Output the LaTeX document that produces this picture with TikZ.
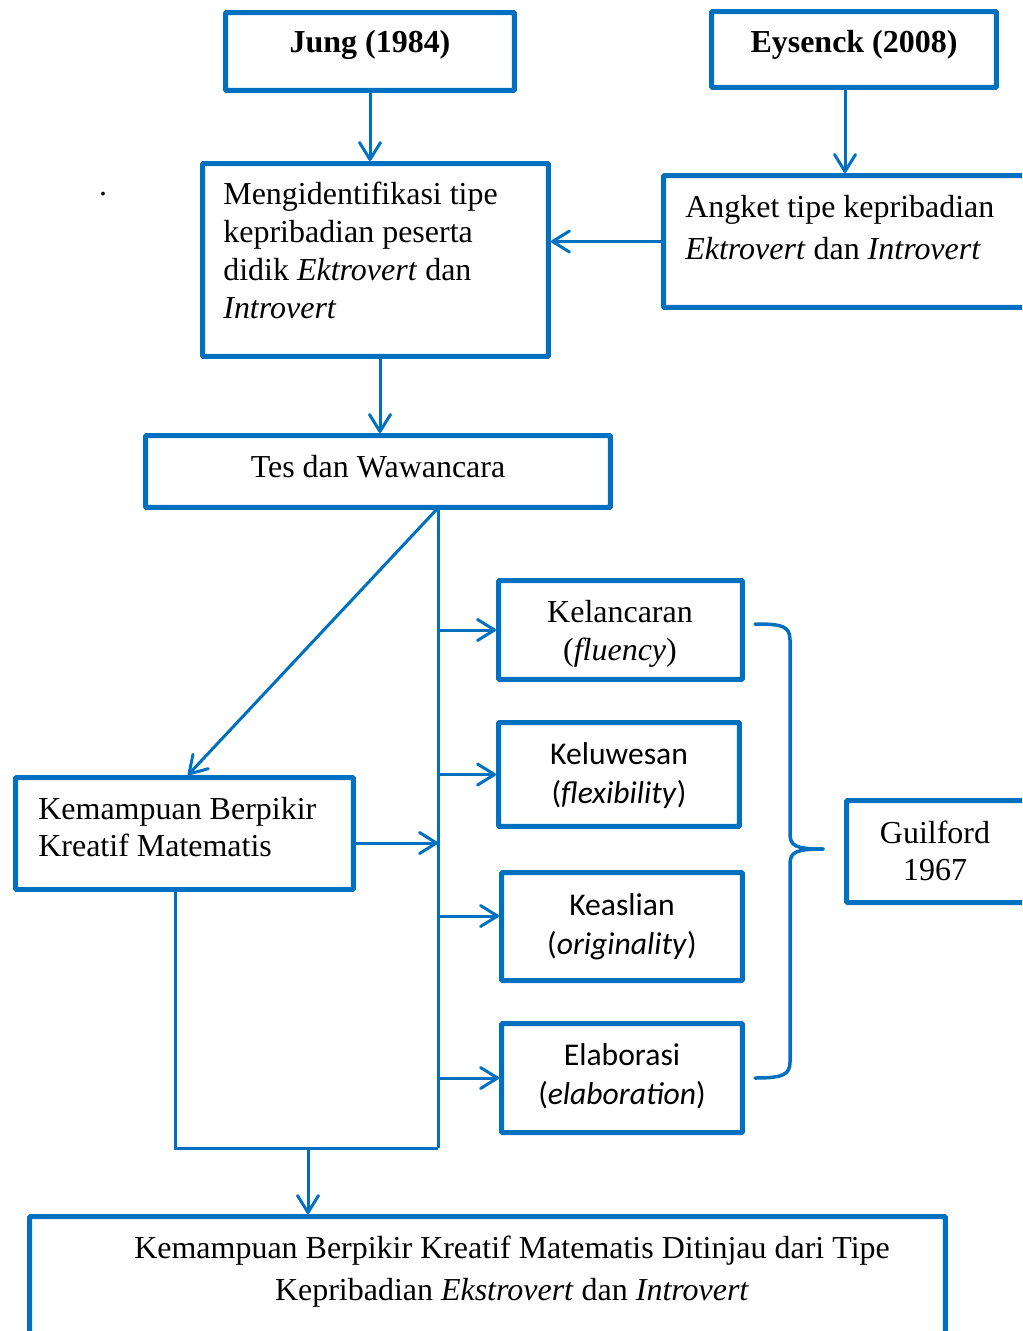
\documentclass[tikz,border=0pt]{standalone}
\usepackage{fontspec}
\setmainfont{Liberation Serif}
\newfontfamily\calibrifont{Carlito}
\usepackage{tikz}
\usetikzlibrary{arrows.meta,positioning}
\definecolor{frameblue}{RGB}{0,112,192}

\begin{document}
\begin{tikzpicture}[x=0.02cm,y=-0.02cm,
	box/.style={draw=frameblue,line width=0.1cm,inner sep=0pt,rounded corners=0.6pt},
	link/.style={draw=frameblue,line width=0.06cm,-{Straight Barb[length=3.4mm,width=4.2mm,round]}},
	wire/.style={draw=frameblue,line width=0.06cm},
	brace/.style={draw=frameblue,line width=0.07cm},
	txt/.style={inner sep=0pt,font=\fontsize{18.2}{21.5}\selectfont},
	ctxt/.style={inner sep=0pt,align=center,font=\calibrifont\fontsize{18}{22}\selectfont}]
		% page
		\useasboundingbox (0,0) rectangle (1022,1331);
		\clip (0,0) rectangle (1022,1331);
		% frames
		\node[box,minimum width=5.78cm,minimum height=1.56cm] (jung) at (370,51.5) {};
		\node[box,minimum width=5.70cm,minimum height=1.52cm] (eysenck) at (854,49.5) {};
		\node[box,minimum width=6.92cm,minimum height=3.86cm] (identify) at (375.5,260) {};
		\node[box,minimum width=7.93cm,minimum height=2.64cm] (angket) at (861.75,241.5) {};
		\node[box,minimum width=9.30cm,minimum height=1.44cm] (tes) at (378,471.5) {};
		\node[box,minimum width=4.88cm,minimum height=1.98cm] (fluency) at (620.5,630) {};
		\node[box,minimum width=4.82cm,minimum height=2.08cm] (flex) at (619,774.5) {};
		\node[box,minimum width=4.82cm,minimum height=2.16cm] (orig) at (622,926.5) {};
		\node[box,minimum width=4.82cm,minimum height=2.18cm] (elab) at (622,1078) {};
		\node[box,minimum width=4.27cm,minimum height=2.04cm] (guilford) at (953.25,851.5) {};
		\node[box,minimum width=6.76cm,minimum height=2.24cm] (kreatif) at (184.5,833.5) {};
		\node[box,minimum width=18.32cm,minimum height=3.67cm] (result) at (487.5,1308.25) {};
		% texts
		\node[txt] (jungtxt) at (370,45) {\textbf{Jung (1984)}};
		\node[txt] (eysencktxt) at (854,45) {\textbf{Eysenck (2008)}};
		\node[txt] (dot) at (103,194) {.};
		\node[txt,anchor=north west,align=left] (identifytxt) at (223,182)
			{Mengidentifikasi tipe\\kepribadian peserta\\didik \textit{Ektrovert} dan\\\textit{Introvert}};
		\node[txt,anchor=north west,align=left,font=\fontsize{18.2}{24}\selectfont] (angkettxt) at (685,195)
			{Angket tipe kepribadian\\\textit{Ektrovert} dan \textit{Introvert}};
		\node[txt] (testxt) at (378,467) {Tes dan Wawancara};
		\node[txt,align=center,font=\fontsize{18.2}{21.5}\selectfont] (fluencytxt) at (620,634)
			{Kelancaran\\(\textit{fluency})};
		\node[ctxt] (flextxt) at (619,775.5) {Keluwesan\\(\textit{flexibility})};
		\node[ctxt] (origtxt) at (622,926.5) {Keaslian\\(\textit{originality})};
		\node[ctxt] (elabtxt) at (622,1076.5) {Elaborasi\\(\textit{elaboration})};
		\node[txt,align=center] (guilfordtxt) at (935,851) {Guilford\\1967};
		\node[txt,anchor=north west,align=left] (kreatiftxt) at (38,796.5)
			{Kemampuan Berpikir\\Kreatif Matematis};
		\node[txt,align=center,font=\fontsize{18.2}{24}\selectfont] (resulttxt) at (512,1272)
			{Kemampuan Berpikir Kreatif Matematis Ditinjau dari Tipe\\Kepribadian \textit{Ekstrovert} dan \textit{Introvert}};
		% top arrows
		\draw[link] (jung.south) -- (jung.south |- identify.north);
		\draw[link] ([xshift=-0.18cm]eysenck.south) -- ([xshift=-0.18cm]eysenck.south |- angket.north);
		\draw[link] (angket.west) -- (angket.west -| identify.east);
		\draw[link] ([xshift=0.09cm]identify.south) -- ([xshift=0.09cm]identify.south |- tes.north);
		% trunk
		\coordinate (split) at (438,508);
		\coordinate (join) at (438,1148);
		\coordinate (drop) at (308,1148);
		\draw[wire] (split) -- (join);
		\draw[link] (split) -- ([xshift=0.07cm]kreatif.north);
		\draw[link] (split |- fluency.west) -- (fluency.west);
		\draw[link] (split |- flex.west) -- (flex.west);
		\draw[link] (split |- 0,916) -- (orig.west |- 0,916);
		\draw[link] (split |- elab.west) -- (elab.west);
		\draw[link] ([yshift=-0.19cm]kreatif.east) -- ([yshift=-0.19cm]kreatif.east -| split);
		\draw[wire] ([xshift=-0.19cm]kreatif.south) |- (join);
		\draw[link] (drop) -- (drop |- result.north);
		% brace
		\draw[brace,line cap=round] (755,624) .. controls (782,624) and (790,626) .. (790,640) -- (790,834)
			.. controls (790,846) and (796,849) .. (823,849);
		\draw[brace,line cap=round] (823,849) .. controls (796,849) and (790,852) .. (790,864) -- (790,1062)
			.. controls (790,1075) and (782,1078) .. (755,1078);
	\end{tikzpicture}
\end{document}
